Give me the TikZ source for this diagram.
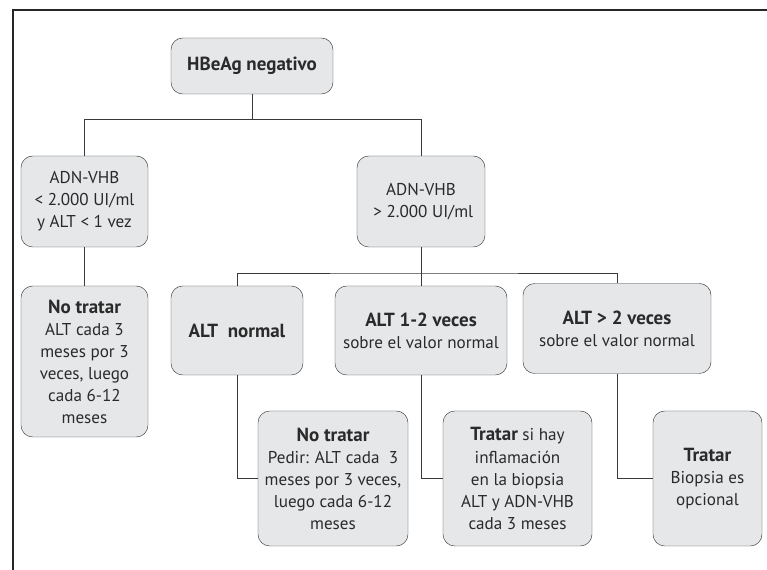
\documentclass[tikz,border=0pt]{standalone}
\usepackage{fontspec}
\setmainfont{PT Sans}
\usepackage{tikz}
\usetikzlibrary{calc}

\definecolor{boxgray}{HTML}{E6E7E9}
\definecolor{linegray}{HTML}{3A3A3A}
\definecolor{textgray}{HTML}{2A2A2A}
\newcommand{\negrita}[1]{{\fontsize{16.2}{18.8}\selectfont\bfseries #1}}

\tikzset{
  caja/.style={draw=linegray,fill=boxgray,rounded corners=10pt,align=center,
    inner sep=2pt,text=textgray,font=\fontsize{14.6}{18.8}\selectfont},
  rama/.style={draw=linegray,line width=0.8pt}
}

\begin{document}
\begin{tikzpicture}
\useasboundingbox (0,0) rectangle (23.01,17.1);
% marco
\draw[line width=1.4pt,black!85] (0.39,0) -- (0.39,16.8) -- (23.01,16.8);
% nivel 1
\node[caja,minimum width=4.86cm,minimum height=1.68cm] (raiz) at (7.56,15.12) {\negrita{HBeAg negativo}};
% nivel 2
\node[caja,minimum width=3.81cm,minimum height=2.73cm] (bajo) at (2.535,11.055) {ADN-VHB\\< 2.000 UI/ml\\y ALT < 1 vez};
\node[caja,minimum width=3.84cm,minimum height=2.73cm] (alto) at (12.63,11.055) {ADN-VHB\\\ > 2.000 UI/ml};
% nivel 3
\node[caja,minimum width=3.81cm,minimum height=4.53cm] (notratarA) at (2.535,6.255) {\negrita{No tratar}\\ALT cada 3\\meses por 3\\veces, luego\\cada 6-12\\meses};
\node[caja,minimum width=3.96cm,minimum height=2.67cm] (altnormal) at (7.11,7.185) {\negrita{ALT\ \ normal}};
\node[caja,minimum width=5.16cm,minimum height=2.67cm] (altuno) at (12.63,7.185) {\negrita{ALT 1-2 veces}\\sobre el valor normal};
\node[caja,minimum width=5.64cm,minimum height=2.70cm] (altdos) at (18.51,7.245) {\negrita{ALT > 2 veces}\\sobre el valor normal};
% nivel 4
\node[caja,minimum width=4.5cm,minimum height=4.05cm] (notratarB) at (9.99,2.745) {\negrita{No tratar}\\Pedir: ALT cada\ \ 3\\meses por 3 veces,\\luego cada 6-12\\meses};
\node[caja,minimum width=4.47cm,minimum height=4.05cm] (tratarsi) at (15.525,2.745) {\negrita{Tratar} si hay\\inflamación\\en la biopsia\\ALT y ADN-VHB\\cada 3 meses};
\node[caja,minimum width=3.27cm,minimum height=4.05cm] (tratar) at (21.225,2.745) {\negrita{Tratar}\\Biopsia es\\opcional};
% ramas
\coordinate (j1) at (7.56,13.53);
\coordinate (j2) at (12.63,8.91);
\draw[rama] (raiz) -- (j1);
\draw[rama] (bajo.north) |- (j1) -| (alto.north);
\draw[rama] (bajo) -- (notratarA);
\draw[rama] (alto) -- (j2);
\draw[rama] (altnormal.north) |- (j2) -| (altdos.north);
\draw[rama] (j2) -- (altuno);
\draw[rama] (altnormal.south) |- (notratarB.west);
\draw[rama] (altuno.south) |- (tratarsi.west);
\draw[rama] (altdos.south) |- (tratar.west);
\end{tikzpicture}
\end{document}
